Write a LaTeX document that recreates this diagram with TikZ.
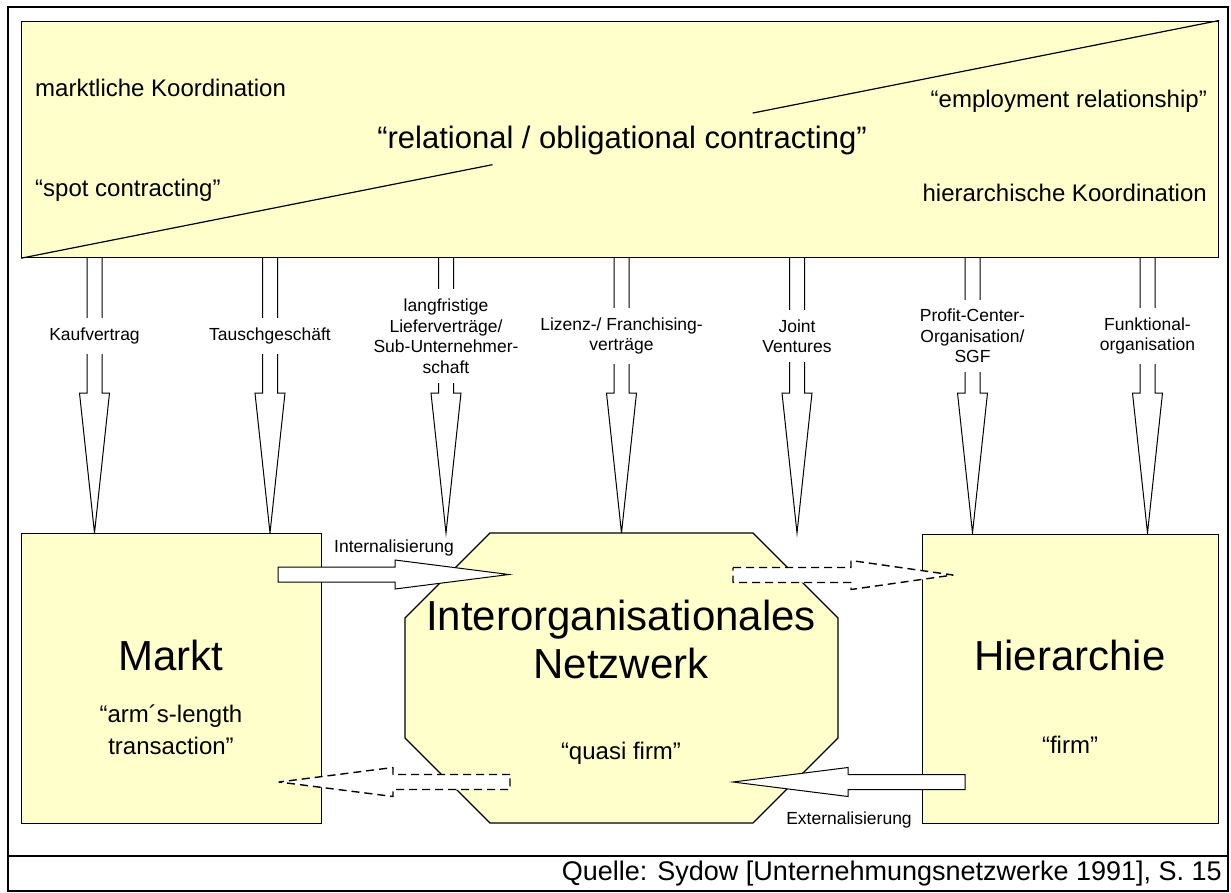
\documentclass[tikz,border=0pt]{standalone}
\usepackage{fontspec}
\setmainfont{Liberation Sans}
\usetikzlibrary{calc}
\definecolor{yfill}{HTML}{FFFFCC}
\newcommand\fsmall{\fontsize{24}{32}\selectfont}
\newcommand\fbig{\fontsize{31}{36}\selectfont}
\newcommand\flab{\fontsize{17.5}{20.5}\selectfont}
\newcommand\ftitle{\fontsize{42}{48}\selectfont}
\newcommand\fsrc{\fontsize{27}{32}\selectfont}
\newcommand\varrow[2]{\draw[varr] ($(#1)+(-7.5,0)$) -- ($(#2)+(-7.5,-140)$) -- ($(#2)+(-15,-140)$) -- (#2) -- ($(#2)+(15,-140)$) -- ($(#2)+(7.5,-140)$) -- ($(#1)+(7.5,0)$);}
\newcommand\harrow[4]{\draw[#1] ($(#2)+(0,-7.5)$) -- ($(#3)+(#4,-7.5)$) -- ($(#3)+(#4,-14.5)$) -- (#3) -- ($(#3)+(#4,14.5)$) -- ($(#3)+(#4,7.5)$) -- ($(#2)+(0,7.5)$) -- cycle;}
\begin{document}
\begin{tikzpicture}[x=1pt,y=-1pt,
  box/.style={draw=black, fill=yfill, line width=1.2pt, inner sep=0pt},
  varr/.style={draw=black, line width=1pt, line join=miter},
  harr/.style={draw=black, fill=white, line width=1pt, line join=miter},
  darr/.style={draw=black, fill=white, line width=1.4pt, dash pattern=on 8pt off 5pt, line join=round},
  lbl/.style={fill=white, font=\flab, align=center, inner xsep=2pt, inner ysep=9.5pt},
  txt/.style={inner sep=0pt}]
\useasboundingbox (0,0) rectangle (1231,892);
% frame
\draw[line width=2.5pt] (8,7) rectangle (1228,891);
\draw[line width=2.5pt] (8,856) -- (1228,856);
% top box
\node[box, anchor=north west, minimum width=1197pt, minimum height=236.5pt] (top) at (21,20.5) {};
\draw[line width=1.2pt] (top.south west) -- ($(top.south west)!0.3935!(top.north east)$);
\draw[line width=1.2pt] ($(top.south west)!0.6107!(top.north east)$) -- (top.north east);
\node[txt, font=\fsmall, anchor=west] (mk) at (35,88) {marktliche Koordination};
\node[txt, font=\fsmall, anchor=west] (sc) at (35,190) {“spot contracting”};
\node[txt, font=\fbig] (rel) at (622,140) {“relational / obligational contracting”};
\node[txt, font=\fsmall, anchor=east] (er) at (1207,101) {“employment relationship”};
\node[txt, font=\fsmall, anchor=east] (hk) at (1207,193) {hierarchische Koordination};
% vertical arrows
\foreach \i/\x in {1/94.5, 2/270, 3/446, 4/621.5, 5/797, 6/972.5, 7/1147.5} {
  \coordinate (s\i) at (\x,257);
  \coordinate (t\i) at (\x,533);
}
\varrow{s1}{t1}\varrow{s2}{t2}\varrow{s3}{t3}\varrow{s4}{t4}\varrow{s5}{t5}\varrow{s6}{t6}\varrow{s7}{t7}
\node[lbl] (l1) at (94.5,336) {Kaufvertrag};
\node[lbl] (l2) at (270,336) {Tauschgeschäft};
\node[lbl] (l3) at (446,336) {langfristige\\Lieferverträge/\\Sub-Unternehmer-\\schaft};
\node[lbl] (l4) at (621.5,336) {Lizenz-/ Franchising-\\verträge};
\node[lbl] (l5) at (797,336) {Joint\\Ventures};
\node[lbl] (l6) at (972.5,336) {Profit-Center-\\Organisation/\\SGF};
\node[lbl] (l7) at (1147.5,336) {Funktional-\\organisation};
% lower boxes
\node[box, anchor=north west, minimum width=300pt, minimum height=290pt] (markt) at (21,533) {};
\node[box, anchor=north west, minimum width=296pt, minimum height=289.5pt] (hier) at (922,533.5) {};
\draw[box] (405,618) -- (490,533) -- (753,533) -- (838,618) -- (838,738) -- (753,823) -- (490,823) -- (405,738) -- cycle;
% horizontal arrows
\coordinate (i0) at (278,574.5); \coordinate (i1) at (509,574.5);
\coordinate (r0) at (733,575); \coordinate (r1) at (953,575);
\coordinate (q0) at (510,782); \coordinate (q1) at (279,782);
\coordinate (e0) at (965,782); \coordinate (e1) at (733,782);
\harrow{harr}{i0}{i1}{-114}
\harrow{darr}{r0}{r1}{-102}
\harrow{darr}{q0}{q1}{114}
\harrow{harr}{e0}{e1}{115}
% texts in boxes
\node[txt, font=\ftitle] (mt) at (171,655) {Markt};
\node[txt, font=\fsmall, align=center] (ma) at (171,730) {“arm´s-length\\transaction”};
\node[txt, font=\ftitle, align=center] (netz) at (621,639) {Interorganisationales\\Netzwerk};
\node[txt, font=\fsmall] (qf) at (621,753) {“quasi firm”};
\node[txt, font=\ftitle] (ht) at (1070,655) {Hierarchie};
\node[txt, font=\fsmall] (fi) at (1070,745) {“firm”};
\node[txt, font=\flab] (intl) at (394,548) {Internalisierung};
\node[txt, font=\flab] (extl) at (849,820) {Externalisierung};
\node[txt, font=\fsrc, anchor=east] (src) at (1222,874) {Quelle: Sydow [Unternehmungsnetzwerke 1991], S. 15};
\end{tikzpicture}
\end{document}
